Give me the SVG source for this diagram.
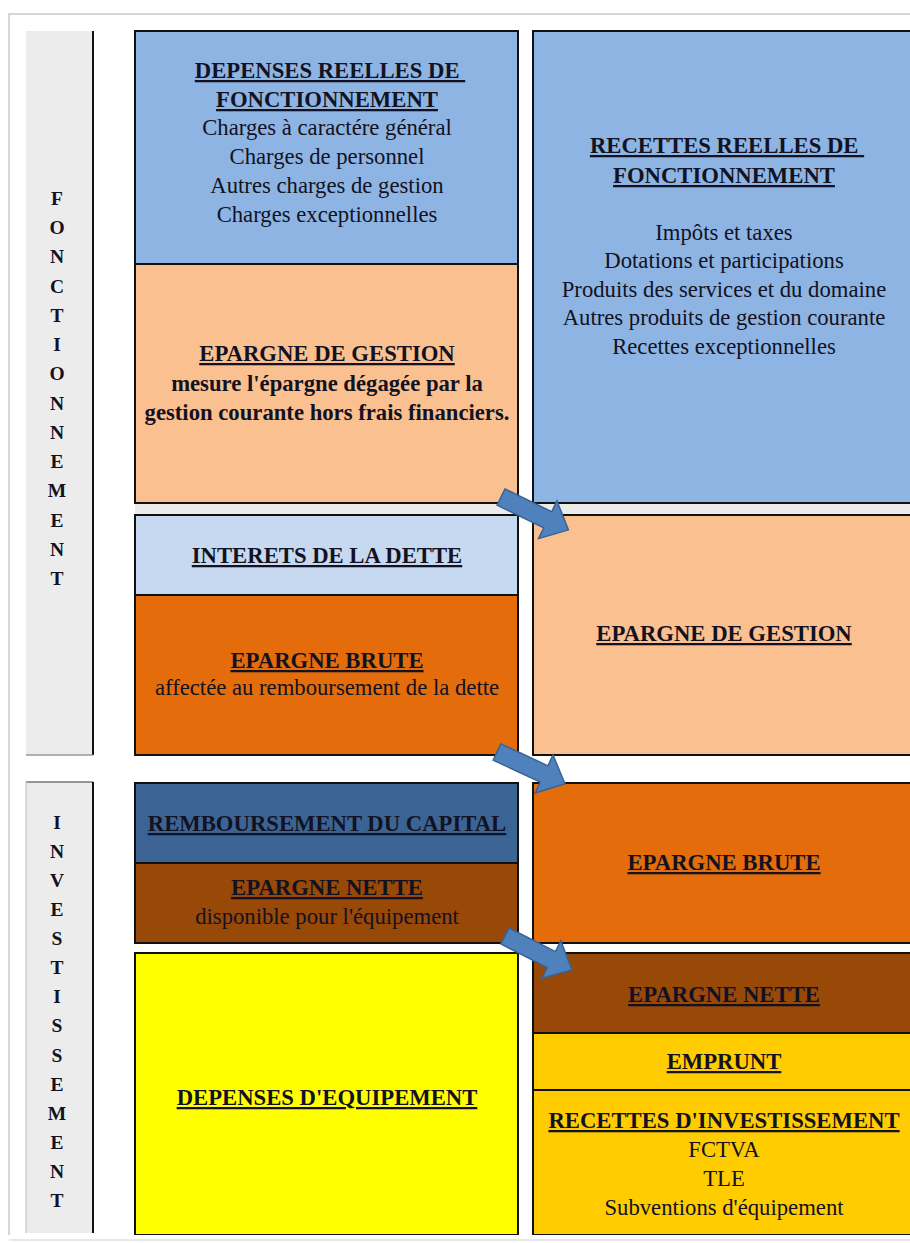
<svg xmlns="http://www.w3.org/2000/svg" width="910" height="1243" viewBox="0 0 910 1243">
<defs>
<style>
text{font-family:"Liberation Serif","Times New Roman",serif;fill:#121222;text-anchor:middle}
.t{font-size:22.7px;font-weight:bold;text-decoration:underline}
.r{font-size:22.7px}
.b{font-size:22.7px;font-weight:bold}
.v{font-size:19.5px;font-weight:bold}
.box{stroke:#111;stroke-width:2}
.lab{fill:#ececec}
.arrow{fill:#4f81bd;stroke:#3a6396;stroke-width:1.5}
</style>
<path id="arr" d="M0,-9 L52,-9 L52,-21 L75,0 L52,21 L52,9 L0,9 Z"/>
</defs>
<rect x="0" y="0" width="910" height="1243" fill="#ffffff"/>
<rect x="9" y="14" width="905" height="1226" fill="#ffffff" stroke="#d6d6d6" stroke-width="2"/>
<rect x="135" y="503" width="775" height="12" fill="#ebebeb"/>

<g id="label-fonctionnement">
<rect class="lab" x="26" y="31" width="67" height="724"/>
<line x1="93" y1="31" x2="93" y2="755" stroke="#111" stroke-width="2"/>
<line x1="26" y1="755" x2="93" y2="755" stroke="#999" stroke-width="1.5"/>
<text class="v" x="57" y="205">F</text>
<text class="v" x="57" y="234">O</text>
<text class="v" x="57" y="263">N</text>
<text class="v" x="57" y="293">C</text>
<text class="v" x="57" y="322">T</text>
<text class="v" x="57" y="351">I</text>
<text class="v" x="57" y="380">O</text>
<text class="v" x="57" y="410">N</text>
<text class="v" x="57" y="439">N</text>
<text class="v" x="57" y="468">E</text>
<text class="v" x="57" y="497">M</text>
<text class="v" x="57" y="527">E</text>
<text class="v" x="57" y="556">N</text>
<text class="v" x="57" y="585">T</text>
</g>

<g id="label-investissement">
<rect class="lab" x="26" y="782" width="67" height="451"/>
<line x1="26" y1="782" x2="93" y2="782" stroke="#777" stroke-width="1.5"/>
<line x1="26" y1="782" x2="26" y2="1233" stroke="#bbb" stroke-width="1"/>
<line x1="93" y1="782" x2="93" y2="1233" stroke="#111" stroke-width="2"/>
<text class="v" x="57" y="829">I</text>
<text class="v" x="57" y="858">N</text>
<text class="v" x="57" y="887">V</text>
<text class="v" x="57" y="916">E</text>
<text class="v" x="57" y="945">S</text>
<text class="v" x="57" y="974">T</text>
<text class="v" x="57" y="1003">I</text>
<text class="v" x="57" y="1032">S</text>
<text class="v" x="57" y="1062">S</text>
<text class="v" x="57" y="1091">E</text>
<text class="v" x="57" y="1120">M</text>
<text class="v" x="57" y="1149">E</text>
<text class="v" x="57" y="1178">N</text>
<text class="v" x="57" y="1207">T</text>
</g>

<g id="depenses-reelles">
<rect class="box" x="135" y="31" width="383" height="233" fill="#8eb4e3"/>
<text class="t" x="330" y="78" xml:space="preserve">DEPENSES REELLES DE </text>
<text class="t" x="327" y="107">FONCTIONNEMENT</text>
<text class="r" x="327" y="135">Charges à caractére général</text>
<text class="r" x="327" y="164">Charges de personnel</text>
<text class="r" x="327" y="193">Autres charges de gestion</text>
<text class="r" x="327" y="222">Charges exceptionnelles</text>
</g>

<g id="epargne-gestion-left">
<rect class="box" x="135" y="264" width="383" height="239" fill="#fac090"/>
<text class="t" x="327" y="361">EPARGNE DE GESTION</text>
<text class="b" x="327" y="391">mesure l'épargne dégagée par la</text>
<text class="b" x="327" y="420">gestion courante hors frais financiers.</text>
</g>

<g id="recettes-reelles">
<rect class="box" x="533" y="31" width="380" height="472" fill="#8eb4e3"/>
<text class="t" x="727" y="153" xml:space="preserve">RECETTES REELLES DE </text>
<text class="t" x="724" y="183">FONCTIONNEMENT</text>
<text class="r" x="724" y="240">Impôts et taxes</text>
<text class="r" x="724" y="268">Dotations et participations</text>
<text class="r" x="724" y="297">Produits des services et du domaine</text>
<text class="r" x="724" y="325">Autres produits de gestion courante</text>
<text class="r" x="724" y="354">Recettes exceptionnelles</text>
</g>

<g id="interets-dette">
<rect class="box" x="135" y="515" width="383" height="80" fill="#c6d9f1"/>
<text class="t" x="327" y="563">INTERETS DE LA DETTE</text>
</g>

<g id="epargne-brute-left">
<rect class="box" x="135" y="595" width="383" height="160" fill="#e46c0a"/>
<text class="t" x="327" y="668">EPARGNE BRUTE</text>
<text class="r" x="327" y="695">affectée au remboursement de la dette</text>
</g>

<g id="epargne-gestion-right">
<rect class="box" x="533" y="515" width="380" height="240" fill="#fac090"/>
<text class="t" x="724" y="641">EPARGNE DE GESTION</text>
</g>

<g id="remboursement-capital">
<rect class="box" x="135" y="783" width="383" height="80" fill="#3b6495"/>
<text class="t" x="327" y="831">REMBOURSEMENT DU CAPITAL</text>
</g>

<g id="epargne-nette-left">
<rect class="box" x="135" y="863" width="383" height="80" fill="#984807"/>
<text class="t" x="327" y="895">EPARGNE NETTE</text>
<text class="r" x="327" y="924">disponible pour l'équipement</text>
</g>

<g id="depenses-equipement">
<rect class="box" x="135" y="953" width="383" height="282" fill="#ffff00"/>
<text class="t" x="327" y="1105">DEPENSES D'EQUIPEMENT</text>
</g>

<g id="epargne-brute-right">
<rect class="box" x="533" y="783" width="380" height="160" fill="#e46c0a"/>
<text class="t" x="724" y="870">EPARGNE BRUTE</text>
</g>

<g id="epargne-nette-right">
<rect class="box" x="533" y="953" width="380" height="80" fill="#984807"/>
<text class="t" x="724" y="1002">EPARGNE NETTE</text>
</g>

<g id="emprunt">
<rect class="box" x="533" y="1033" width="380" height="57" fill="#ffcc00"/>
<text class="t" x="724" y="1069">EMPRUNT</text>
</g>

<g id="recettes-investissement">
<rect class="box" x="533" y="1090" width="380" height="145" fill="#ffcc00"/>
<text class="t" x="724" y="1128">RECETTES D'INVESTISSEMENT</text>
<text class="r" x="724" y="1157">FCTVA</text>
<text class="r" x="724" y="1186">TLE</text>
<text class="r" x="724" y="1215">Subventions d'équipement</text>
</g>

<rect x="0" y="1235" width="910" height="8" fill="#ffffff"/>
<line x1="9" y1="1240" x2="910" y2="1240" stroke="#e0e0e0" stroke-width="1.5"/>

<g id="connectors">
<use href="#arr" class="arrow" transform="translate(501,497) rotate(26)"/>
<use href="#arr" class="arrow" transform="translate(497,752) rotate(25)"/>
<use href="#arr" class="arrow" transform="translate(505,936) rotate(27)"/>
</g>
</svg>
